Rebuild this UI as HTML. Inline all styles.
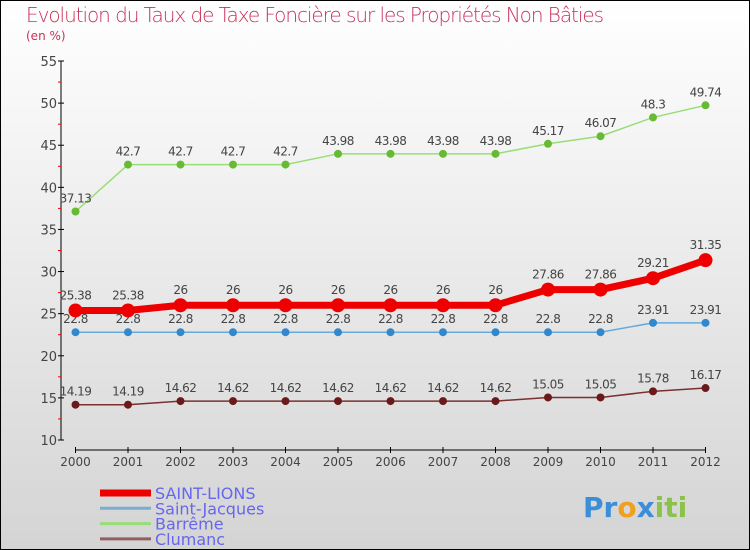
<!DOCTYPE html>
<html><head><meta charset="utf-8"><style>
body{margin:0}
svg{display:block;font-family:"DejaVu Sans","Liberation Sans",sans-serif}
</style></head><body>
<svg width="750" height="550" viewBox="0 0 750 550">
<defs><linearGradient id="bg" x1="0" y1="0" x2="0" y2="1"><stop offset="0" stop-color="#ffffff"/><stop offset="1" stop-color="#d4d4d4"/></linearGradient></defs>
<rect x="0.5" y="0.5" width="749" height="549" fill="url(#bg)" stroke="#000"/>
<text x="26" y="22" font-size="20" fill="#c8325a" style="font-family:'DejaVu Sans',sans-serif;font-weight:200" textLength="578">Evolution du Taux de Taxe Foncière sur les Propriétés Non Bâties</text>
<text x="26" y="40" font-size="12" fill="#c8325a">(en %)</text>
<g id="axes"></g>
<g id="series"></g>
<g id="legend"></g>
<text x="583" y="517" font-size="28" font-weight="bold"><tspan fill="#3a8fd8">Pr</tspan><tspan fill="#f0a020">o</tspan><tspan fill="#3a8fd8">x</tspan><tspan fill="#8bc34a">iti</tspan></text>
</svg>
<script>
const years=["2000","2001","2002","2003","2004","2005","2006","2007","2008","2009","2010","2011","2012"];
const yTicks=[10,15,20,25,30,35,40,45,50,55];
const saintLions=[25.38,25.38,26,26,26,26,26,26,26,27.86,27.86,29.21,31.35];
const saintJacques=[22.8,22.8,22.8,22.8,22.8,22.8,22.8,22.8,22.8,22.8,22.8,23.91,23.91];
const barreme=[37.13,42.7,42.7,42.7,42.7,43.98,43.98,43.98,43.98,45.17,46.07,48.3,49.74];
const clumanc=[14.19,14.19,14.62,14.62,14.62,14.62,14.62,14.62,14.62,15.05,15.05,15.78,16.17];
const seriesNames=["SAINT-LIONS","Saint-Jacques","Barrême","Clumanc"];
const NS="http://www.w3.org/2000/svg";
function X(i){return 75.5+i*(705.5-75.5)/(years.length-1);}
function Y(v){return 440-(v-10)*(440-61)/45;}
function mk(tag,attrs,parent){const e=document.createElementNS(NS,tag);for(const k in attrs)e.setAttribute(k,attrs[k]);parent.appendChild(e);return e;}
const ax=document.getElementById('axes');
let l=mk('line',{x1:61,y1:61,x2:61,y2:440,stroke:'#000','stroke-width':1},ax);


yTicks.forEach((v,i)=>{
  mk('line',{x1:58,y1:Y(v),x2:64,y2:Y(v),stroke:'#000'},ax);
  if(i<yTicks.length-1)mk('line',{x1:58,y1:Y(v+2.5),x2:61,y2:Y(v+2.5),stroke:'#e00'},ax);
  const t=mk('text',{x:57,y:Y(v)+5,'font-size':13,fill:'#444','text-anchor':'end'},ax);
  t.textContent=v;
  
  
});
l=mk('line',{x1:75.5,y1:450,x2:705.5,y2:450,stroke:'#000'},ax);


years.forEach((y,i)=>{
  mk('line',{x1:X(i),y1:447,x2:X(i),y2:453,stroke:'#000'},ax);
  const t=mk('text',{x:X(i),y:466,'font-size':12,fill:'#444','text-anchor':'middle'},ax);
  t.textContent=y;
  
  
});
const sg=document.getElementById('series');
function fmt(v){return String(v);}
function draw(data,name,color,dot,w,r,lab){
  const g=mk('g',{},sg);
  
  
  const p=mk('polyline',{points:data.map((v,i)=>X(i)+','+Y(v)).join(' '),fill:'none',stroke:color,'stroke-width':w},g);
  
  
  data.forEach((v,i)=>{
    const c=mk('circle',{cx:X(i),cy:Y(v),r:r,fill:dot},g);
    
    
    const t=mk('text',{x:X(i),y:Y(v)-lab,'font-size':12,fill:'#444','text-anchor':'middle','letter-spacing':'-0.5'},g);
    t.textContent=fmt(v);
    
    
  });
}
draw(clumanc,'clumanc','#7a3030','#6a1a1a',1.5,4,9);
draw(barreme,'barreme','#99dd77','#66bb33',1.5,4,9);
draw(saintJacques,'saint-jacques','#66aadd','#3388cc',1.5,4,9);
draw(saintLions,'saint-lions','#ee0000','#ee0000',7,7,11);
const lg=document.getElementById('legend');
const lc=['#ee0000','#7aaed0','#99dd77','#906060'],lw=[7,3,3,3];
seriesNames.forEach((n,i)=>{
  const y=493+i*15.3;
  const g=mk('g',{},lg);
  
  
  mk('line',{x1:100,y1:y,x2:151,y2:y,stroke:lc[i],'stroke-width':lw[i]},g);
  const t=mk('text',{x:155,y:y+6,'font-size':16,fill:'#6666ee'},g);
  t.textContent=n;
});
</script>
</body></html>
